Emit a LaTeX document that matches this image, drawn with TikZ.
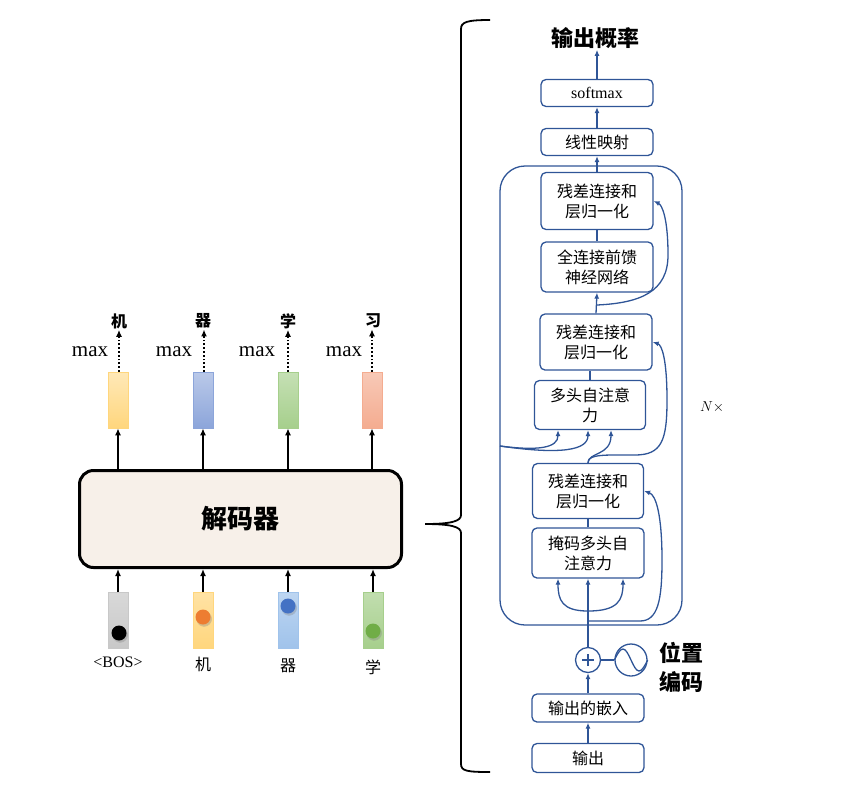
\documentclass[tikz,border=0pt]{standalone}
\usepackage{fontspec}
\setmainfont{Liberation Serif}
\newfontfamily\cjk{Noto Sans CJK SC}
\usetikzlibrary{arrows.meta,shadows}

\definecolor{nblue}{RGB}{47,85,151}
\definecolor{beige}{RGB}{247,240,233}
\definecolor{barY}{RGB}{255,214,125}
\definecolor{barB}{RGB}{140,165,218}
\definecolor{barG}{RGB}{166,207,140}
\definecolor{barR}{RGB}{244,172,144}
\definecolor{barK}{RGB}{200,200,200}
\definecolor{barL}{RGB}{160,195,235}
\definecolor{dotO}{RGB}{237,125,49}
\definecolor{dotB}{RGB}{68,114,196}
\definecolor{dotG}{RGB}{112,173,71}

\tikzset{
  bar/.style={minimum width=20pt,minimum height=56pt,inner sep=0pt,line width=0.6pt},
  dot/.style={circle,minimum size=15pt,inner sep=0pt,
    circular drop shadow={shadow xshift=0.8pt,shadow yshift=-1.5pt,opacity=.35}},
  word/.style={font=\cjk\fontsize{16}{18}\selectfont,inner sep=1pt},
  maxl/.style={font=\fontsize{21}{24}\selectfont,inner sep=0pt},
  karr/.style={line width=1.8pt,>={Latex[length=7pt,width=6pt]}},
  blk/.style={draw=nblue,line width=1.3pt,rounded corners=5pt,minimum width=112pt,
    align=center,inner sep=1pt,font=\cjk\fontsize{16}{20}\selectfont},
  bln/.style={draw=nblue,line width=1.3pt,>={Latex[length=6pt,width=5pt]}},
}

\begin{document}
\begin{tikzpicture}[x=1pt,y=-1pt]
\useasboundingbox (0,0) rectangle (858,793);

% left: decoder with its inputs and outputs
\node[draw,line width=3pt,rounded corners=14pt,fill=beige,minimum width=322pt,minimum height=97pt,
  font=\cjk\bfseries\fontsize{26}{30}\selectfont] (dec) at (240.5,519) {解码器};

\node[bar,draw=barY,top color=barY!55!white,bottom color=barY] (o1) at (118,400) {};
\node[bar,draw=barB,top color=barB!60!white,bottom color=barB] (o2) at (203,400) {};
\node[bar,draw=barG,top color=barG!65!white,bottom color=barG] (o3) at (288,400) {};
\node[bar,draw=barR,top color=barR!65!white,bottom color=barR] (o4) at (372,400) {};

\node[word,font=\cjk\bfseries\fontsize{16}{18}\selectfont] (w1) at (119,321) {机};
\node[word,font=\cjk\bfseries\fontsize{16}{18}\selectfont] (w2) at (203,321) {器};
\node[word,font=\cjk\bfseries\fontsize{16}{18}\selectfont] (w3) at (288,321) {学};
\node[word,font=\cjk\bfseries\fontsize{16}{18}\selectfont] (w4) at (373,321) {习};

\node[maxl] (m1) at (90,352) {max};
\node[maxl] (m2) at (174,352) {max};
\node[maxl] (m3) at (257,352) {max};
\node[maxl] (m4) at (344,352) {max};

\draw[karr,->] (o1.south |- dec.north) -- (o1.south);
\draw[karr,->] (o2.south |- dec.north) -- (o2.south);
\draw[karr,->] (o3.south |- dec.north) -- (o3.south);
\draw[karr,->] (o4.south |- dec.north) -- (o4.south);
\draw[karr,->,dotted,line width=1.6pt] ([xshift=1pt]o1.north) -- ([xshift=1pt]o1.north |- w1.south);
\draw[karr,->,dotted,line width=1.6pt] ([xshift=1pt]o2.north) -- ([xshift=1pt]o2.north |- w2.south);
\draw[karr,->,dotted,line width=1.6pt] (o3.north) -- (o3.north |- w3.south);
\draw[karr,->,dotted,line width=1.6pt] (o4.north) -- (o4.north |- w4.south);

\node[bar,draw=barK,top color=barK!70!white,bottom color=barK] (i1) at (118,620.5) {};
\node[bar,draw=barY,top color=barY!70!white,bottom color=barY] (i2) at (203,620.5) {};
\node[bar,draw=barL,top color=barL!70!white,bottom color=barL] (i3) at (288,620.5) {};
\node[bar,draw=barG,top color=barG!70!white,bottom color=barG] (i4) at (373,620.5) {};
\node[dot,fill=black] (d1) at (119,633) {};
\node[dot,fill=dotO] (d2) at (203,617) {};
\node[dot,fill=dotB] (d3) at (288,606) {};
\node[dot,fill=dotG] (d4) at (373,631) {};

\node[word,font=\fontsize{16}{18}\selectfont] (t1) at (118,662) {<BOS>};
\node[word] (t2) at (203,664) {机};
\node[word] (t3) at (288,666) {器};
\node[word] (t4) at (373,667) {学};

\draw[karr,->] (i1.north) -- (i1.north |- dec.south);
\draw[karr,->] (i2.north) -- (i2.north |- dec.south);
\draw[karr,->] (i3.north) -- (i3.north |- dec.south);
\draw[karr,->] (i4.north) -- (i4.north |- dec.south);

% brace
\draw[line width=1.8pt] (490,20) .. controls (467,20) and (461,22) .. (461,29) -- (461,515)
  .. controls (461,521) and (452,524) .. (425,524) .. controls (452,524) and (461,527) .. (461,533)
  -- (461,764) .. controls (461,771) and (467,772) .. (490,772);

% right: decoder layer
\node[font=\cjk\bfseries\fontsize{22}{26}\selectfont,inner sep=1pt] (prob) at (595,38) {输出概率};
\node[blk,minimum height=27pt,font=\fontsize{16}{20}\selectfont] (sm) at (597,93) {softmax};
\node[blk,minimum height=27pt] (lin) at (597,142) {线性映射};
\node[draw=nblue,line width=1.3pt,rounded corners=25pt,minimum width=182pt,minimum height=459pt] (layer) at (591,395.5) {};
\node[font=\fontsize{14}{16}\selectfont] (nx) at (712,407) {$N\times$};

\node[blk,minimum height=57pt] (r3) at (597,201) {残差连接和\\层归一化};
\node[blk,minimum height=50pt] (ffn) at (597,267) {全连接前馈\\神经网络};
\node[blk,minimum height=56pt] (r2) at (596,342) {残差连接和\\层归一化};
\node[blk,minimum width=111pt,minimum height=49pt] (mha) at (590,405) {多头自注意\\力};
\node[blk,minimum width=111pt,minimum height=55pt] (r1) at (588,491) {残差连接和\\层归一化};
\node[blk,minimum height=50pt] (mmha) at (588,553) {掩码多头自\\注意力};

\node[draw=nblue,line width=1.3pt,circle,minimum size=25pt,inner sep=0pt] (plus) at (588,660) {};
\draw[nblue,line width=1.1pt] ([yshift=-6pt]plus.center) -- ([yshift=6pt]plus.center)
  ([xshift=-6pt]plus.center) -- ([xshift=6pt]plus.center);
\node[draw=nblue,line width=1.3pt,circle,minimum size=32pt,inner sep=0pt] (pe) at (631,660) {};
\draw[nblue,line width=1.3pt] (pe.west) sin (623,649) cos (631,660) sin (639,671) cos (pe.east);
\node[font=\cjk\bfseries\fontsize{22}{29}\selectfont,align=center,inner sep=0pt] (pel) at (681,667) {位置\\编码};

\node[blk,minimum height=28pt] (emb) at (588,708) {输出的嵌入};
\node[blk,minimum height=29pt] (outp) at (588,758) {输出};

\coordinate (enc) at (500,446);
\coordinate (b0) at (588,611);
\coordinate (b1) at (588,621);
\coordinate (b2) at (597,305);

\draw[bln,->] (sm.north) -- (sm.north |- prob.south);
\draw[bln,->] (lin.north) -- (sm.south);
\draw[bln,->] (r3.north) -- (lin.south);
\draw[bln] (ffn.north) -- (r3.south);
\draw[bln,->] (r2.north) -- (ffn.south);
\draw[bln] (r2.south -| mha.north) -- (mha.north);
\draw[bln] (mmha.north) -- (r1.south);
\draw[bln,->] (plus.north) -- (mmha.south);
\draw[bln,->] (emb.north) -- (plus.south);
\draw[bln,->] (outp.north) -- (emb.south);
\draw[bln] (plus.east) -- (pe.west);

% residual and attention inputs
\draw[bln,->] (b2) .. controls (640,303) and (668,292) .. (668,255) .. controls (668,218) and (662,205) .. (r3.east);
\draw[bln,->] (enc) .. controls (538,451) and (558,448) .. ([xshift=-32pt]mha.south);
\draw[bln,->] (enc) .. controls (562,455) and (588,450) .. ([xshift=-2pt]mha.south);
\draw[bln,->] (r1.north) .. controls (588,452) and (611,456) .. ([xshift=21pt]mha.south);
\draw[bln,->] (r1.north) .. controls (588,456) and (598,455) .. (615,455) -- (635,455)
  .. controls (662,455) and (667,440) .. (667,400) .. controls (667,360) and (662,345) .. (r2.east);
\draw[bln,->] (b0) .. controls (562,611) and (558,600) .. ([xshift=-30pt]mmha.south);
\draw[bln,->] (b0) .. controls (618,611) and (623,600) .. ([xshift=35pt]mmha.south);
\draw[bln,->] (b1) -- (640,621) .. controls (658,621) and (662,600) .. (662,560)
  .. controls (662,515) and (656,495) .. (r1.east);
\end{tikzpicture}
\end{document}
